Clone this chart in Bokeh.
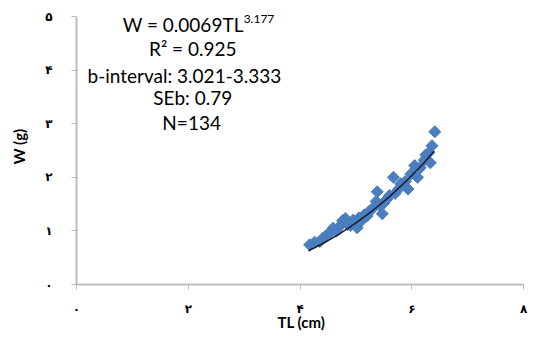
from bokeh.plotting import figure
from bokeh.models import FixedTicker, Label, ColumnDataSource
from bokeh.embed import file_html
from bokeh.resources import INLINE

# scatter data (TL cm, W g)
tl = [4.17, 4.26, 4.47, 4.59, 4.76, 4.81, 4.90, 5.02, 5.10, 5.24, 5.38, 5.47, 5.36, 5.55,
      5.67, 5.76, 5.93, 6.10, 6.05, 6.22, 6.33, 6.36, 6.41,
      4.35, 4.40, 4.55, 4.65, 4.70, 4.85, 4.95, 5.05, 5.15, 5.20, 5.30, 5.42, 5.50, 5.60,
      5.70, 5.80, 5.88, 5.98, 6.15, 6.25, 6.30]
w = [0.74, 0.79, 0.92, 1.05, 1.19, 1.23, 1.10, 1.06, 1.19, 1.37, 1.73, 1.32, 1.55, 1.59,
     2.00, 1.78, 1.78, 2.00, 2.22, 2.32, 2.27, 2.59, 2.85,
     0.80, 0.86, 0.98, 1.00, 1.08, 1.12, 1.20, 1.24, 1.30, 1.28, 1.42, 1.48, 1.52, 1.66,
     1.70, 1.88, 1.92, 2.06, 2.18, 2.42, 2.46]

# power trend line
trend_tl = [4.15, 4.4, 4.7, 5.0, 5.3, 5.6, 5.9, 6.2, 6.4]
trend_w = [0.63, 0.76, 0.94, 1.15, 1.38, 1.64, 1.93, 2.25, 2.49]

x_ticks = [0, 2, 4, 6, 8]
x_tick_labels = ["۰", "۲", "۴", "۶", "۸"]
y_ticks = [0, 1, 2, 3, 4, 5]
y_tick_labels = ["۰", "۱", "۲", "۳", "۴", "۵"]

p = figure(width=528, height=333, x_range=(0, 8.05), y_range=(0, 5.15),
           output_backend="svg", toolbar_location=None,
           min_border_left=76, min_border_right=2, min_border_top=8, min_border_bottom=45)
p.outline_line_color = None
p.xgrid.visible = False
p.ygrid.visible = False
p.background_fill_color = "white"
p.border_fill_color = "white"

p.xaxis.ticker = FixedTicker(ticks=x_ticks)
p.yaxis.ticker = FixedTicker(ticks=y_ticks)
p.xaxis.major_label_overrides = dict(zip(x_ticks, x_tick_labels))
p.yaxis.major_label_overrides = dict(zip(y_ticks, y_tick_labels))
p.xaxis.bounds = (0, 8)
p.yaxis.bounds = (0, 5)

for ax in (p.xaxis, p.yaxis):
    ax.axis_line_color = "#bcbcbc"
    ax.axis_line_width = 2
    ax.major_tick_line_color = "#bcbcbc"
    ax.major_tick_out = 5
    ax.major_tick_in = 0
    ax.minor_tick_line_color = None
    ax.major_label_text_font = "DejaVu Sans"
    ax.major_label_text_font_size = "12px"
    ax.major_label_text_font_style = "bold"
    ax.major_label_text_color = "black"
    ax.axis_label_text_font = "Lato"
    ax.axis_label_text_font_style = "bold"
    ax.axis_label_text_color = "black"
    ax.axis_label_text_font_size = "15px"

p.xaxis.axis_label = "TL (cm)"
p.xaxis.major_label_standoff = 12
p.xaxis.axis_label_standoff = -6
p.yaxis.axis_label = "W (g)"
p.yaxis.major_label_standoff = 19
p.yaxis.axis_label_standoff = 14
p.yaxis.major_label_orientation = "horizontal"

src = ColumnDataSource(dict(x=tl, y=w))
p.scatter("x", "y", source=src, marker="square", size=8.5, angle=0.785,
          fill_color="#4a7ebf", line_color="#4a7ebf")
p.line(trend_tl, trend_w, line_color="#1a1a2e", line_width=1.5)

font = "Lato"
fs = "19px"
col = "black"
p.add_layout(Label(x=2.99, y=4.85, text="W = 0.0069TL", text_align="right",
                   text_baseline="middle", text_font=font, text_font_size=fs, text_color=col))
p.add_layout(Label(x=2.99, y=4.96, text="3.177", text_align="left",
                   text_baseline="middle", text_font=font, text_font_size="12px", text_color=col))
p.add_layout(Label(x=2.08, y=4.40, text="R² = 0.925", text_align="center",
                   text_baseline="middle", text_font=font, text_font_size=fs, text_color=col))
p.add_layout(Label(x=1.93, y=3.90, text="b-interval: 3.021-3.333", text_align="center",
                   text_baseline="middle", text_font=font, text_font_size=fs, text_color=col))
p.add_layout(Label(x=2.08, y=3.49, text="SEb: 0.79", text_align="center",
                   text_baseline="middle", text_font=font, text_font_size=fs, text_color=col))
p.add_layout(Label(x=2.06, y=3.02, text="N=134", text_align="center",
                   text_baseline="middle", text_font=font, text_font_size=fs, text_color=col))

open("out.html", "w").write(file_html(p, INLINE))
